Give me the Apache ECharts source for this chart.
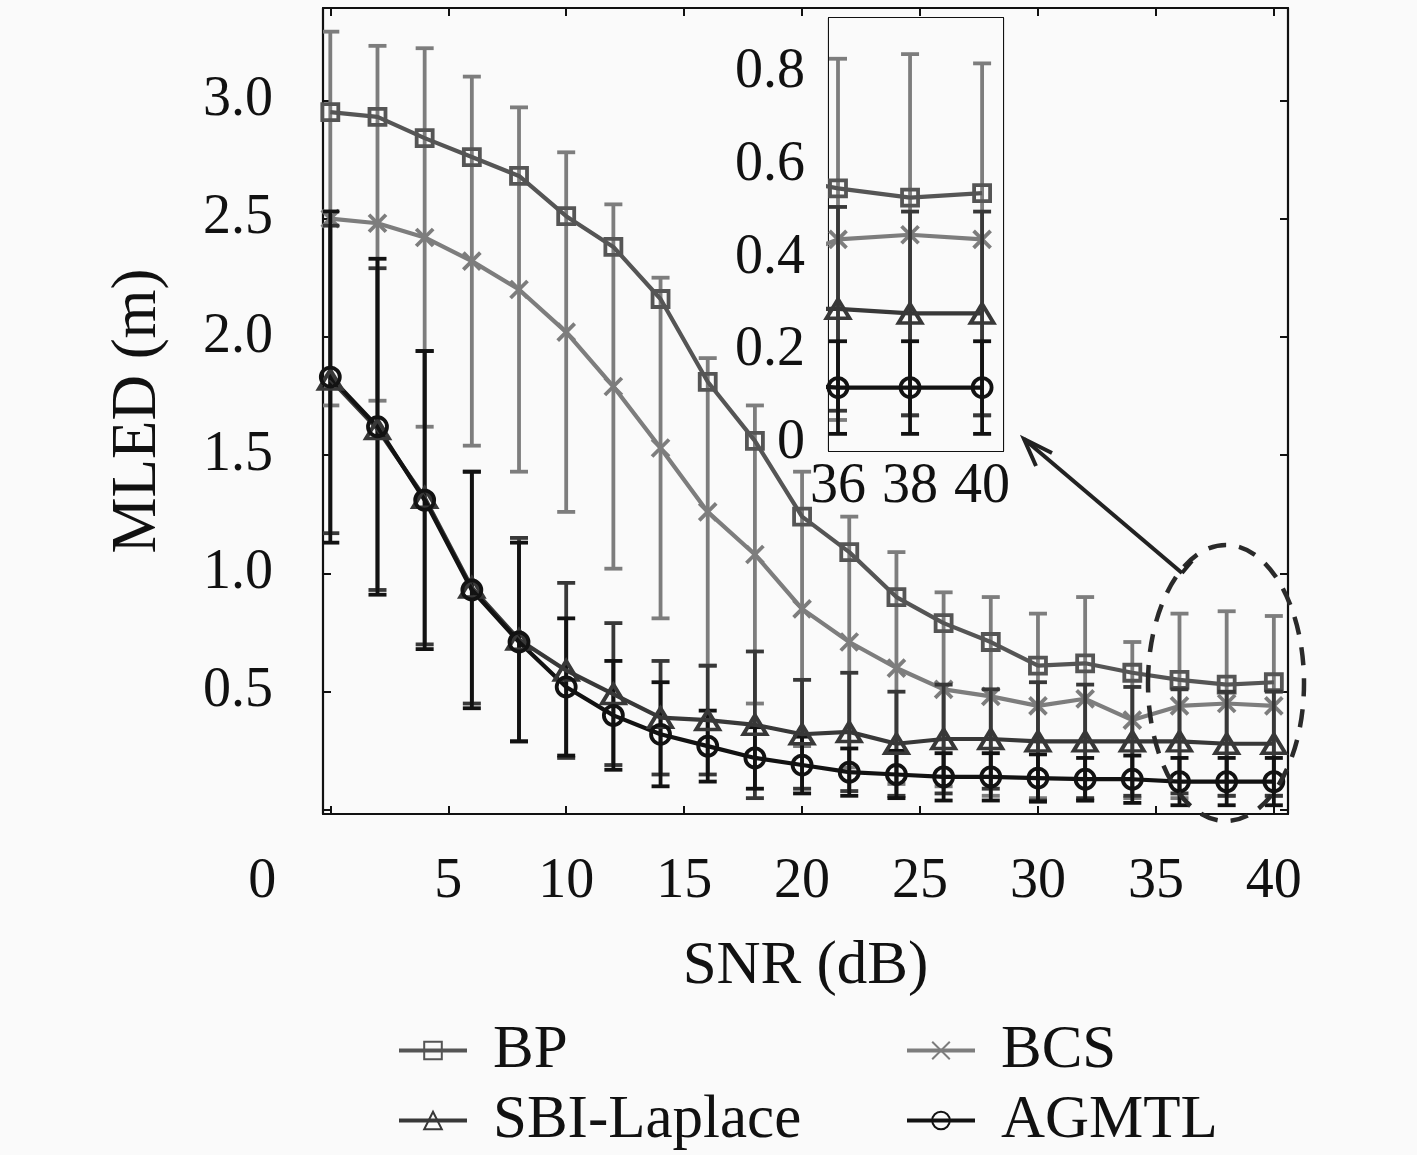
<!DOCTYPE html>
<html>
<head>
<meta charset="utf-8">
<title>MLED vs SNR</title>
<script src="https://cdn.jsdelivr.net/npm/echarts@6/dist/echarts.min.js"></script>
<style>
  html, body { margin: 0; padding: 0; background: #fafafa; }
  #chart { width: 1417px; height: 1155px; }
</style>
</head>
<body>
<div id="chart"></div>
<script>
// data
var snr = [0, 2, 4, 6, 8, 10, 12, 14, 16, 18, 20, 22, 24, 26, 28, 30, 32, 34, 36, 38, 40];
var bp = [2.95, 2.93, 2.84, 2.76, 2.68, 2.51, 2.38, 2.16, 1.81, 1.56, 1.24, 1.09, 0.90, 0.79, 0.71, 0.61, 0.62, 0.58, 0.55, 0.53, 0.54];
var bcs = [2.50, 2.48, 2.42, 2.32, 2.20, 2.02, 1.79, 1.53, 1.26, 1.08, 0.85, 0.71, 0.60, 0.51, 0.48, 0.44, 0.47, 0.38, 0.44, 0.45, 0.44];
var bcsErr = [0.79, 0.75, 0.80, 0.78, 0.77, 0.76, 0.77, 0.72, 0.65, 0.63, 0.58, 0.53, 0.49, 0.41, 0.42, 0.39, 0.43, 0.33, 0.39, 0.39, 0.38];
var sbi = [1.82, 1.61, 1.32, 0.94, 0.72, 0.59, 0.49, 0.39, 0.38, 0.36, 0.32, 0.33, 0.28, 0.30, 0.30, 0.29, 0.29, 0.29, 0.29, 0.28, 0.28];
var sbiErr = [0.65, 0.68, 0.62, 0.49, 0.43, 0.37, 0.30, 0.24, 0.23, 0.31, 0.23, 0.25, 0.22, 0.23, 0.21, 0.25, 0.24, 0.23, 0.22, 0.22, 0.22];
var agmtl = [1.83, 1.62, 1.31, 0.93, 0.71, 0.52, 0.40, 0.32, 0.27, 0.22, 0.19, 0.16, 0.15, 0.14, 0.14, 0.135, 0.13, 0.13, 0.12, 0.12, 0.12];
var agmtlErr = [0.70, 0.71, 0.63, 0.50, 0.42, 0.29, 0.23, 0.22, 0.15, 0.13, 0.12, 0.10, 0.10, 0.10, 0.10, 0.10, 0.09, 0.10, 0.10, 0.10, 0.10];

var xTicks = [0, 5, 10, 15, 20, 25, 30, 35, 40];
var yTicks = [0, 0.5, 1.0, 1.5, 2.0, 2.5, 3.0];
var yLabels = [0.5, 1.0, 1.5, 2.0, 2.5, 3.0];
var insetXTicks = [36, 38, 40];
var insetYTicks = [0, 0.2, 0.4, 0.6, 0.8];

var FONT = 'Liberation Serif';
var INK = '#111';
var BG = '#fafafa';
var colBP = '#555555', colBCS = '#7d7d7d', colSBI = '#383838', colAG = '#121212';

var chart = echarts.init(document.getElementById('chart'));

function pairs(ys) {
  return snr.map(function (x, i) { return [x, ys[i]]; });
}
function triples(ys, es) {
  return snr.map(function (x, i) { return [x, ys[i], es[i]]; });
}

// vertical error bar with caps
function errRender(color) {
  return function (params, api) {
    var x = api.value(0), m = api.value(1), e = api.value(2);
    var hi = api.coord([x, m + e]);
    var lo = api.coord([x, m - e]);
    var w = 9;
    var st = { stroke: color, lineWidth: 3.8 };
    return {
      type: 'group',
      children: [
        { type: 'line', shape: { x1: hi[0], y1: hi[1], x2: lo[0], y2: lo[1] }, style: st },
        { type: 'line', shape: { x1: hi[0] - w, y1: hi[1], x2: hi[0] + w, y2: hi[1] }, style: st },
        { type: 'line', shape: { x1: lo[0] - w, y1: lo[1], x2: lo[0] + w, y2: lo[1] }, style: st }
      ]
    };
  };
}

function frameAxis(grid, pos, min, max, ticks, labels, labelOpt) {
  var a = {
    type: 'value', gridIndex: grid, position: pos, min: min, max: max,
    axisLine: { show: true, onZero: false, lineStyle: { color: INK, width: 2.2 } },
    axisTick: { show: true, inside: true, length: 8, customValues: ticks, lineStyle: { color: INK, width: 2 } },
    splitLine: { show: false },
    axisLabel: { show: false }
  };
  if (labels) {
    a.axisLabel = Object.assign({
      show: true, customValues: labels, color: INK, fontFamily: FONT, fontSize: 56
    }, labelOpt || {});
  }
  return a;
}

var lineSeries = function (name, ys, color, symbol, size, grid, z) {
  return {
    name: name, type: 'line', data: pairs(ys),
    xAxisIndex: grid, yAxisIndex: grid,
    symbol: symbol, symbolSize: size, showAllSymbol: true,
    lineStyle: { color: color, width: 4.2 },
    itemStyle: { color: 'rgba(0,0,0,0)', borderColor: color, borderWidth: 3.8 },
    emphasis: { disabled: true },
    z: z, clip: true
  };
};
var errSeries = function (id, ys, es, color, grid, z) {
  return {
    id: id + '-' + grid, type: 'custom', data: triples(ys, es),
    xAxisIndex: grid, yAxisIndex: grid,
    encode: { x: 0, y: 1 },
    renderItem: errRender(color), clip: true, z: z, silent: true
  };
};

var crossPath = 'path://M0,0L10,10M10,0L0,10';

function allSeries(grid) {
  return [
    lineSeries('BP', bp, colBP, 'rect', 16, grid, 3),
    lineSeries('BCS', bcs, colBCS, crossPath, 17, grid, 3),
    lineSeries('SBI-Laplace', sbi, colSBI, 'triangle', [23, 19], grid, 5),
    lineSeries('AGMTL', agmtl, colAG, 'circle', 19, grid, 5),
    errSeries('bcsErr', bcs, bcsErr, colBCS, grid, 2),
    errSeries('sbiErr', sbi, sbiErr, colSBI, grid, 4),
    errSeries('agmtlErr', agmtl, agmtlErr, colAG, grid, 4)
  ];
}

function legendAt(name, left, top) {
  return {
    data: [name], left: left, top: top, padding: 0,
    itemWidth: 68, itemHeight: 22, selectedMode: false,
    lineStyle: { width: 4 },
    textStyle: { fontFamily: FONT, fontSize: 61, color: INK, padding: [0, 0, 0, 21] }
  };
}

var option = {
  backgroundColor: BG,
  animation: false,
  grid: [
    { left: 323, top: 8, width: 965, height: 806, show: true, backgroundColor: BG, borderWidth: 0 },
    { left: 829, top: 18, width: 174, height: 433, show: true, backgroundColor: BG, borderWidth: 0, z: 10 }
  ],
  xAxis: [
    Object.assign(frameAxis(0, 'bottom', -0.31, 40.6, xTicks, xTicks, {
      margin: 40,
      formatter: function (v) { return v === 0 ? '{z|0}' : String(v); },
      rich: { z: { fontFamily: FONT, fontSize: 56, color: INK, padding: [0, 136, 0, 0] } }
    }), { name: 'SNR (dB)', nameLocation: 'middle', nameGap: 122,
          nameTextStyle: { fontFamily: FONT, fontSize: 61, color: INK } }),
    frameAxis(1, 'bottom', 35.75, 40.58, insetXTicks, insetXTicks, { margin: 8 }),
    frameAxis(0, 'top', -0.31, 40.6, xTicks),
    frameAxis(1, 'top', 35.75, 40.58, insetXTicks)
  ],
  yAxis: [
    Object.assign(frameAxis(0, 'left', -0.017, 3.39, yTicks, yLabels, {
      margin: 50, formatter: function (v) { return v.toFixed(1); }
    }), { name: 'MLED (m)', nameLocation: 'middle', nameGap: 153,
          nameTextStyle: { fontFamily: FONT, fontSize: 63, color: INK } }),
    frameAxis(1, 'left', -0.017, 0.918, insetYTicks, insetYTicks, {
      margin: 24, formatter: function (v) { return v === 0 ? '0' : v.toFixed(1); }
    }),
    frameAxis(0, 'right', -0.017, 3.39, yTicks),
    frameAxis(1, 'right', -0.017, 0.918, insetYTicks)
  ],
  legend: [
    legendAt('BP', 397, 1020),
    legendAt('BCS', 905, 1020),
    legendAt('SBI-Laplace', 397, 1090),
    legendAt('AGMTL', 905, 1090)
  ],
  series: allSeries(0).concat(allSeries(1).map(function (s) { s.z += 10; return s; })),
  graphic: [
    {
      type: 'ellipse', z: 50,
      shape: { cx: 1226, cy: 683, rx: 78, ry: 138 },
      style: { fill: 'none', stroke: '#2a2a2a', lineWidth: 4.5, lineDash: [18, 13] }
    },
    {
      type: 'polyline', z: 50,
      shape: { points: [[1182, 573], [1024, 439]] },
      style: { stroke: '#222', lineWidth: 4 }
    },
    {
      type: 'polyline', z: 50,
      shape: { points: [[1036, 466], [1024, 439], [1052, 453]] },
      style: { stroke: '#222', lineWidth: 4, fill: 'none' }
    },
    {
      type: 'polyline', z: 50,
      shape: { points: [[1182, 573], [1192, 561]] },
      style: { stroke: '#222', lineWidth: 4 }
    }
  ]
};

chart.setOption(option);
</script>
</body>
</html>
